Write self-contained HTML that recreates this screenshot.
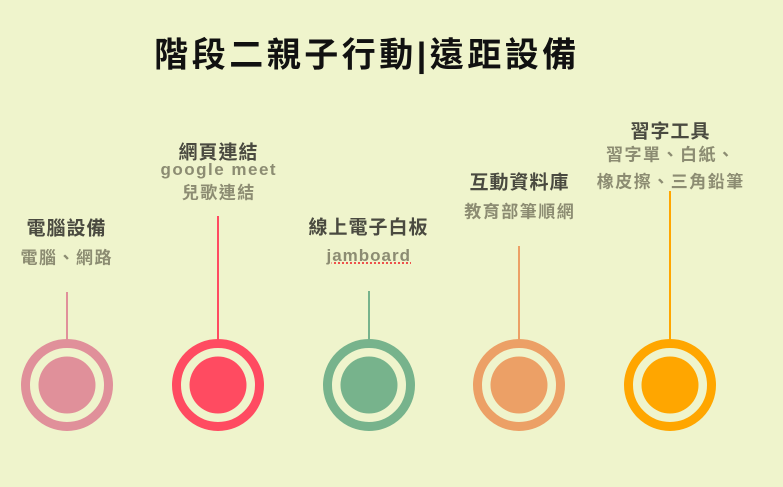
<!DOCTYPE html>
<html><head><meta charset="utf-8"><style>
html,body{margin:0;padding:0}
body{width:783px;height:487px;background:#eff4cc;position:relative;overflow:hidden;font-family:"Liberation Sans","Noto Sans CJK TC",sans-serif}
.t{position:absolute;transform:translate(-50%,-50%);white-space:nowrap;font-weight:bold}
.h{font-size:19px;color:#4a4a40;letter-spacing:1px;text-indent:1px}
.s{font-size:17px;color:#8c8c72;letter-spacing:1.5px;text-indent:1.5px}
.title{font-size:34px;color:#111;letter-spacing:3.5px;font-weight:bold}
</style></head><body>
<div class="t title" style="left:367px;top:52px">階段二親子行動|遠距設備</div>

<div class="t h" style="left:66px;top:227px">電腦設備</div>
<div class="t s" style="left:66px;top:256px">電腦、網路</div>

<div class="t h" style="left:218px;top:151px">網頁連結</div>
<div class="t s" style="left:218px;top:170px;font-size:17px;letter-spacing:1.5px">google meet</div>
<div class="t s" style="left:218px;top:191px">兒歌連結</div>

<div class="t h" style="left:368px;top:226px">線上電子白板</div>
<div class="t s" style="left:368px;top:256px;font-size:17px;letter-spacing:1px;text-decoration:underline dotted #e33;text-underline-offset:2px">jamboard</div>

<div class="t h" style="left:519px;top:181px">互動資料庫</div>
<div class="t s" style="left:519px;top:210px">教育部筆順網</div>

<div class="t h" style="left:670px;top:130px">習字工具</div>
<div class="t s" style="left:670px;top:153px">習字單、白紙、</div>
<div class="t s" style="left:670px;top:180px">橡皮擦、三角鉛筆</div>

<svg width="783" height="487" style="position:absolute;left:0;top:0">
<g stroke-width="2">
<line x1="67" y1="292" x2="67" y2="345" stroke="#e0909a"/>
<line x1="218" y1="216" x2="218" y2="345" stroke="#ff4b61"/>
<line x1="369" y1="291" x2="369" y2="345" stroke="#77b38c"/>
<line x1="519" y1="246" x2="519" y2="345" stroke="#eca066"/>
<line x1="670" y1="191" x2="670" y2="345" stroke="#ffa600"/>
</g>
<g>
<circle cx="67" cy="385" r="41.5" fill="none" stroke="#e0909a" stroke-width="9"/><circle cx="67" cy="385" r="28.5" fill="#e0909a"/>
<circle cx="218" cy="385" r="41.5" fill="none" stroke="#ff4b61" stroke-width="9"/><circle cx="218" cy="385" r="28.5" fill="#ff4b61"/>
<circle cx="369" cy="385" r="41.5" fill="none" stroke="#77b38c" stroke-width="9"/><circle cx="369" cy="385" r="28.5" fill="#77b38c"/>
<circle cx="519" cy="385" r="41.5" fill="none" stroke="#eca066" stroke-width="9"/><circle cx="519" cy="385" r="28.5" fill="#eca066"/>
<circle cx="670" cy="385" r="41.5" fill="none" stroke="#ffa600" stroke-width="9"/><circle cx="670" cy="385" r="28.5" fill="#ffa600"/>
</g>
</svg>
</body></html>
